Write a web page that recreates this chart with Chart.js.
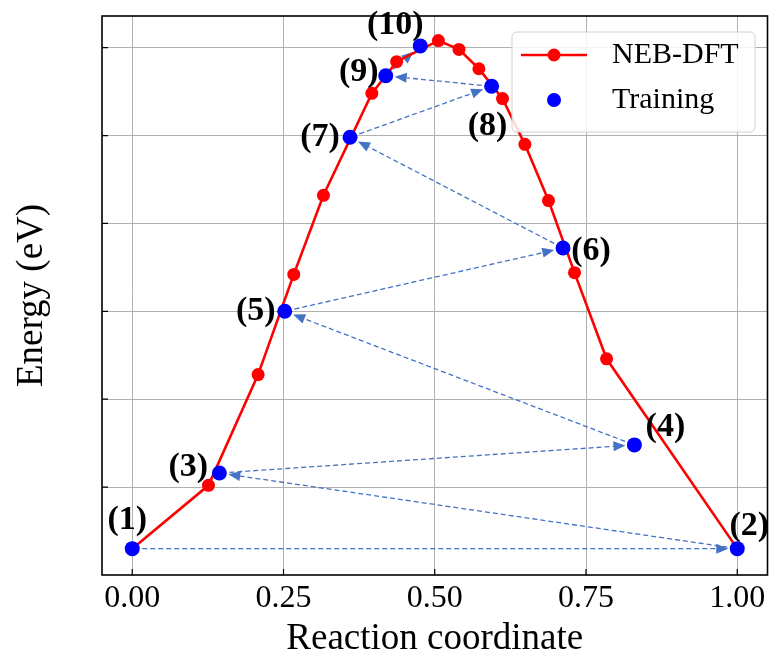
<!DOCTYPE html>
<html>
<head>
<meta charset="utf-8">
<script src="https://cdn.jsdelivr.net/npm/chart.js@4.4.1/dist/chart.umd.min.js"></script>
<style>
  html, body { margin: 0; padding: 0; background: #fff; }
</style>
</head>
<body>
<canvas id="grafico" width="775" height="656"></canvas>
<script>
// curva NEB-DFT (coordenada de reação normalizada, energia em eV)
const xNeb = [0.000, 0.126, 0.208, 0.267, 0.316, 0.396, 0.437, 0.506, 0.540, 0.573, 0.612, 0.649, 0.688, 0.731, 0.784, 1.000];
const eNeb = [0.15, 0.51, 1.14, 1.71, 2.16, 2.74, 2.92, 3.04, 2.99, 2.88, 2.71, 2.45, 2.13, 1.72, 1.23, 0.15];

// pontos de treino, na ordem em que foram escolhidos
const xTrain = [0.000, 1.000, 0.144, 0.830, 0.252, 0.712, 0.360, 0.594, 0.419, 0.476];
const eTrain = [0.15, 0.15, 0.58, 0.74, 1.50, 1.86, 2.49, 2.78, 2.84, 3.01];
const trainLabels = ['(1)', '(2)', '(3)', '(4)', '(5)', '(6)', '(7)', '(8)', '(9)', '(10)'];

const xTicks = [0, 0.25, 0.5, 0.75, 1];
const yTicks = [0.5, 1.0, 1.5, 2.0, 2.5, 3.0];

// deslocamento (px) de cada rótulo em relação ao seu ponto
const offsetRotulos = [[-5, -28], [12, -22], [-31, -6], [31, -18], [-29, 0], [28, 3], [-30, 0], [-4, 40], [-27, -4], [-25, -21]];

const SERIF = '"Liberation Serif", "Times New Roman", serif';
const corSeta = '#4472c4';

const anotacoes = {
    id: 'anotacoes',
    beforeDatasetsDraw(chart) {
        const { ctx, scales: { x, y } } = chart;
        const pts = xTrain.map((v, i) => [x.getPixelForValue(v), y.getPixelForValue(eTrain[i])]);
        ctx.save();
        ctx.strokeStyle = corSeta;
        ctx.fillStyle = corSeta;
        ctx.lineWidth = 1.3;
        // setas tracejadas ligando cada ponto de treino ao seguinte
        for (let i = 0; i < pts.length - 1; i++) {
            const [x0, y0] = pts[i], [x1, y1] = pts[i + 1];
            const len = Math.hypot(x1 - x0, y1 - y0);
            const ux = (x1 - x0) / len, uy = (y1 - y0) / len;
            const sx = x0 + ux * 10, sy = y0 + uy * 10;
            const tx = x1 - ux * 9, ty = y1 - uy * 9;
            const bx = tx - ux * 12, by = ty - uy * 12;
            ctx.setLineDash([5, 3]);
            ctx.beginPath();
            ctx.moveTo(sx, sy);
            ctx.lineTo(bx, by);
            ctx.stroke();
            ctx.setLineDash([]);
            ctx.beginPath();
            ctx.moveTo(tx, ty);
            ctx.lineTo(bx - uy * 5, by + ux * 5);
            ctx.lineTo(bx + uy * 5, by - ux * 5);
            ctx.closePath();
            ctx.fill();
        }
        ctx.restore();
    },
    afterDatasetsDraw(chart) {
        const { ctx, chartArea: a, scales: { x, y } } = chart;
        ctx.save();

        // rótulos (1)...(10)
        ctx.fillStyle = '#000';
        ctx.font = 'bold 34px ' + SERIF;
        ctx.textAlign = 'center';
        ctx.textBaseline = 'middle';
        trainLabels.forEach((txt, i) => {
            const px = x.getPixelForValue(xTrain[i]) + offsetRotulos[i][0];
            const py = y.getPixelForValue(eTrain[i]) + offsetRotulos[i][1];
            ctx.fillText(txt, px, py);
        });

        // marcas dos ticks para dentro
        ctx.strokeStyle = '#000';
        ctx.lineWidth = 1.2;
        ctx.beginPath();
        xTicks.forEach(v => {
            const px = x.getPixelForValue(v);
            ctx.moveTo(px, a.bottom);
            ctx.lineTo(px, a.bottom - 6);
        });
        yTicks.forEach(v => {
            const py = y.getPixelForValue(v);
            ctx.moveTo(a.left, py);
            ctx.lineTo(a.left + 6, py);
        });
        ctx.stroke();

        // moldura
        ctx.lineWidth = 1.6;
        ctx.strokeRect(a.left, a.top, a.right - a.left, a.bottom - a.top);

        // legenda
        const lx = 512, ly = 32, lw = 243, lh = 100;
        ctx.beginPath();
        ctx.roundRect(lx, ly, lw, lh, 5);
        ctx.fillStyle = 'rgba(255,255,255,0.85)';
        ctx.fill();
        ctx.strokeStyle = '#d0d0d0';
        ctx.lineWidth = 1;
        ctx.stroke();

        ctx.strokeStyle = 'red';
        ctx.lineWidth = 2.6;
        ctx.beginPath();
        ctx.moveTo(521, 55);
        ctx.lineTo(587, 55);
        ctx.stroke();
        ctx.fillStyle = 'red';
        ctx.beginPath();
        ctx.arc(554, 55, 6.5, 0, Math.PI * 2);
        ctx.fill();
        ctx.fillStyle = 'blue';
        ctx.beginPath();
        ctx.arc(554, 100, 7, 0, Math.PI * 2);
        ctx.fill();

        ctx.fillStyle = '#000';
        ctx.font = '30px ' + SERIF;
        ctx.textAlign = 'left';
        ctx.fillText('NEB-DFT', 612, 55);
        ctx.fillText('Training', 612, 100);
        ctx.restore();
    }
};

const ctx = document.getElementById('grafico').getContext('2d');
new Chart(ctx, {
    type: 'scatter',
    data: {
        datasets: [{
            label: 'NEB-DFT',
            order: 2,   // desenhada primeiro, fica por baixo
            data: xNeb.map((v, i) => ({ x: v, y: eNeb[i] })),
            showLine: true,
            borderColor: 'red',
            backgroundColor: 'red',
            borderWidth: 2.6,
            pointRadius: 6.5,
            pointHoverRadius: 6.5,
            pointBorderWidth: 0
        }, {
            label: 'Training',
            order: 1,
            data: xTrain.map((v, i) => ({ x: v, y: eTrain[i] })),
            borderColor: 'blue',
            backgroundColor: 'blue',
            pointRadius: 7.5,
            pointHoverRadius: 7.5,
            pointBorderWidth: 0
        }]
    },
    options: {
        responsive: false,
        animation: false,
        layout: { padding: { top: 16, right: 5, left: 0, bottom: 0 } },
        plugins: {
            legend: { display: false },
            tooltip: { enabled: false }
        },
        scales: {
            x: {
                type: 'linear',
                min: -0.05,
                max: 1.05,
                afterBuildTicks: (s) => { s.ticks = xTicks.map(v => ({ value: v })); },
                afterFit: (s) => { s.height = 81; },
                ticks: {
                    color: '#000',
                    padding: 4,
                    maxRotation: 0,
                    font: { family: SERIF, size: 32 },
                    callback: (v) => Number(v).toFixed(2)
                },
                grid: { color: '#b0b0b0', lineWidth: 1, drawTicks: false },
                border: { display: false },
                title: {
                    display: true,
                    text: 'Reaction coordinate',
                    color: '#000',
                    font: { family: SERIF, size: 37, lineHeight: 1 },
                    padding: { top: 0, bottom: -2 }
                }
            },
            y: {
                type: 'linear',
                min: 0,
                max: 3.18,
                afterBuildTicks: (s) => { s.ticks = yTicks.map(v => ({ value: v })); },
                afterFit: (s) => { s.width = 102; },
                ticks: { display: false },
                grid: { color: '#b0b0b0', lineWidth: 1, drawTicks: false },
                border: { display: false },
                title: {
                    display: true,
                    text: 'Energy (eV)',
                    color: '#000',
                    font: { family: SERIF, size: 37, lineHeight: 1 },
                    padding: { top: 14, bottom: 0 }
                }
            }
        }
    },
    plugins: [anotacoes]
});
</script>
</body>
</html>
